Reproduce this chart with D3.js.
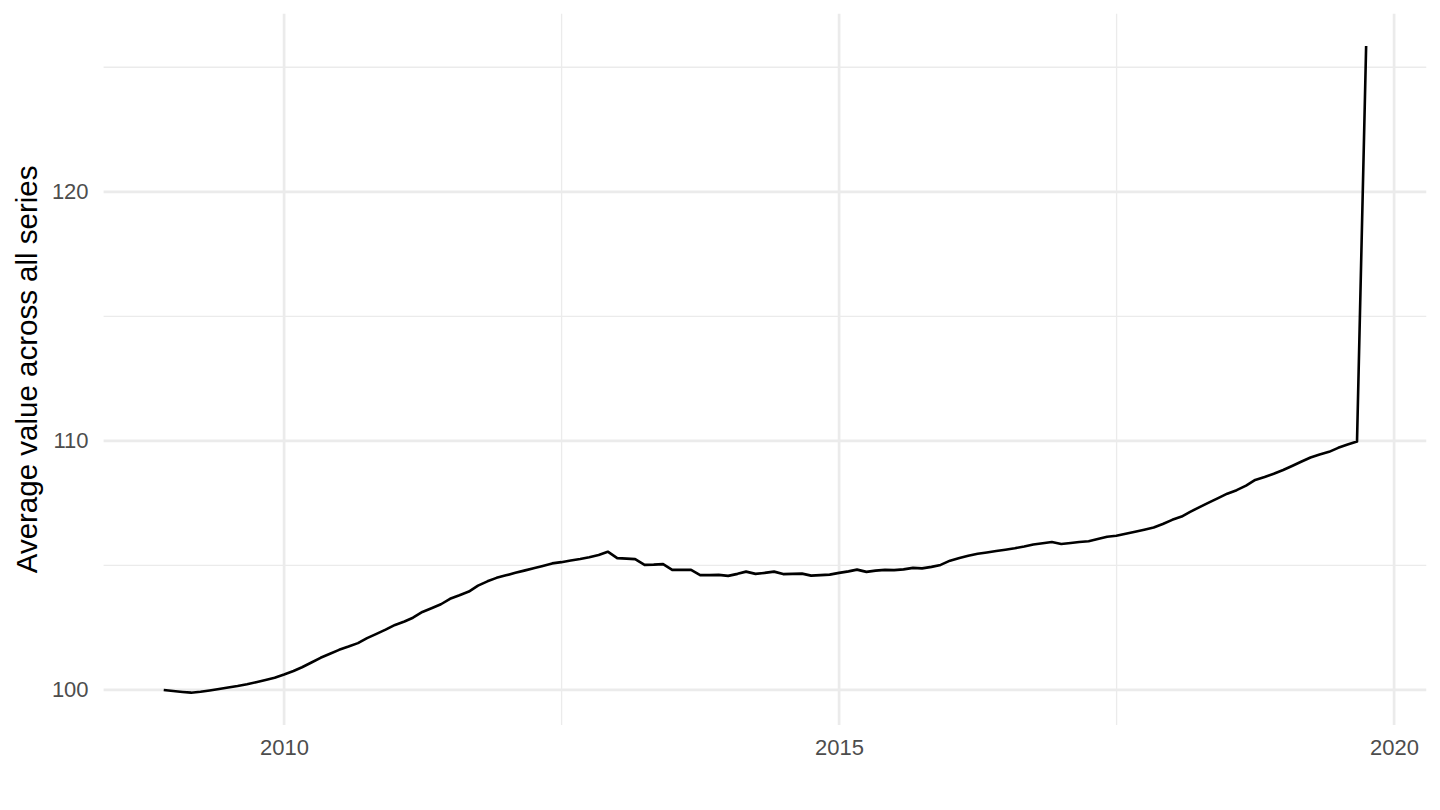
<!DOCTYPE html>
<html>
<head>
<meta charset="utf-8">
<script src="https://cdn.jsdelivr.net/npm/d3@7"></script>
<style>
  html, body { margin: 0; padding: 0; background: #fff; }
  svg { display: block; font-family: "Liberation Sans", Arial, Helvetica, sans-serif; }
</style>
</head>
<body>
<svg id="chart" width="1440" height="810"></svg>
<script>
// Monthly averages, one array per year (first entry of 2008 is December)
const v2008 = [100.00];
const v2009 = [99.96, 99.92, 99.89, 99.93, 99.98, 100.04, 100.10, 100.16, 100.23, 100.31, 100.40, 100.49];
const v2010 = [100.62, 100.76, 100.91, 101.10, 101.29, 101.45, 101.61, 101.74, 101.88, 102.08, 102.25, 102.42];
const v2011 = [102.61, 102.75, 102.90, 103.13, 103.28, 103.44, 103.66, 103.80, 103.95, 104.19, 104.36, 104.50];
const v2012 = [104.60, 104.70, 104.79, 104.89, 104.98, 105.08, 105.13, 105.20, 105.26, 105.33, 105.42, 105.55];
const v2013 = [105.29, 105.27, 105.25, 105.02, 105.03, 105.05, 104.82, 104.82, 104.82, 104.61, 104.61, 104.62];
const v2014 = [104.58, 104.66, 104.75, 104.66, 104.70, 104.75, 104.65, 104.66, 104.67, 104.59, 104.61, 104.63];
const v2015 = [104.70, 104.76, 104.83, 104.74, 104.79, 104.82, 104.81, 104.84, 104.90, 104.88, 104.94, 105.02];
const v2016 = [105.19, 105.30, 105.39, 105.47, 105.52, 105.58, 105.63, 105.69, 105.76, 105.84, 105.89, 105.94];
const v2017 = [105.86, 105.90, 105.94, 105.97, 106.06, 106.15, 106.19, 106.27, 106.35, 106.43, 106.52, 106.66];
const v2018 = [106.83, 106.96, 107.15, 107.34, 107.52, 107.70, 107.88, 108.02, 108.20, 108.43, 108.55, 108.68];
const v2019 = [108.83, 109.00, 109.16, 109.33, 109.45, 109.56, 109.72, 109.85, 109.97, 125.85];

const yearValues = [
  [2008, 12, v2008], [2009, 1, v2009], [2010, 1, v2010], [2011, 1, v2011],
  [2012, 1, v2012], [2013, 1, v2013], [2014, 1, v2014], [2015, 1, v2015],
  [2016, 1, v2016], [2017, 1, v2017], [2018, 1, v2018], [2019, 1, v2019]
];

const xTickYears = [2010, 2015, 2020];
const yTicks = [100, 110, 120];
const yMinorTicks = [105, 115, 125];
const yTitle = 'Average value across all series';

// build point list
const data = [];
yearValues.forEach(([year, firstMonth, vals]) => {
  vals.forEach((v, i) => data.push({ date: new Date(year, firstMonth - 1 + i, 1), value: v }));
});

const W = 1440, H = 810;
const panel = { left: 103.6, right: 1426.25, top: 13.75, bottom: 725 };

// ggplot-style 5% expansion
function expand(ext, mult) {
  const d = ext[1] - ext[0];
  return [ext[0] - d * mult, ext[1] + d * mult];
}

const xExt = d3.extent(data, d => +d.date);
const xDom = expand(xExt, 0.05).map(t => new Date(t));
const yDom = expand(d3.extent(data, d => d.value), 0.05);

const x = d3.scaleTime().domain(xDom).range([panel.left, panel.right]);
const y = d3.scaleLinear().domain(yDom).range([panel.bottom, panel.top]);

const svg = d3.select('#chart');
svg.append('rect').attr('width', W).attr('height', H).attr('fill', '#fff');

const xTicks = xTickYears.map(yr => new Date(yr, 0, 1));
const xMinor = [];
for (let i = 0; i < xTicks.length - 1; i++) {
  xMinor.push(new Date((+xTicks[i] + +xTicks[i + 1]) / 2));
}

const grid = svg.append('g').attr('class', 'grid');

// minor grid
grid.selectAll('line.ymin')
  .data(yMinorTicks.filter(v => v >= yDom[0] && v <= yDom[1]))
  .join('line')
  .attr('class', 'ymin')
  .attr('x1', panel.left).attr('x2', panel.right)
  .attr('y1', d => y(d)).attr('y2', d => y(d))
  .style('stroke', '#EBEBEB').style('stroke-width', 1.35);

grid.selectAll('line.xmin')
  .data(xMinor)
  .join('line')
  .attr('class', 'xmin')
  .attr('y1', panel.top).attr('y2', panel.bottom)
  .attr('x1', d => x(d)).attr('x2', d => x(d))
  .style('stroke', '#EBEBEB').style('stroke-width', 1.35);

// major grid
grid.selectAll('line.ymaj')
  .data(yTicks)
  .join('line')
  .attr('class', 'ymaj')
  .attr('x1', panel.left).attr('x2', panel.right)
  .attr('y1', d => y(d)).attr('y2', d => y(d))
  .style('stroke', '#EBEBEB').style('stroke-width', 2.7);

grid.selectAll('line.xmaj')
  .data(xTicks)
  .join('line')
  .attr('class', 'xmaj')
  .attr('y1', panel.top).attr('y2', panel.bottom)
  .attr('x1', d => x(d)).attr('x2', d => x(d))
  .style('stroke', '#EBEBEB').style('stroke-width', 2.7);

// axes (labels only, no lines / ticks as in theme_minimal)
const xAxis = svg.append('g')
  .attr('transform', `translate(0,${panel.bottom})`)
  .call(d3.axisBottom(x).tickValues(xTicks).tickFormat(d3.timeFormat('%Y')).tickSize(0).tickPadding(14));
xAxis.select('.domain').remove();
xAxis.selectAll('text')
  .style('font-size', '22px')
  .style('fill', '#4D4D4D')
  .attr('font-family', null);

const yAxis = svg.append('g')
  .attr('transform', `translate(${panel.left},0)`)
  .call(d3.axisLeft(y).tickValues(yTicks).tickFormat(d3.format('d')).tickSize(0).tickPadding(15));
yAxis.select('.domain').remove();
yAxis.selectAll('text')
  .style('font-size', '22px')
  .style('fill', '#4D4D4D')
  .attr('font-family', null);

// y title
svg.append('text')
  .attr('transform', `translate(37,${(panel.top + panel.bottom) / 2}) rotate(-90)`)
  .attr('text-anchor', 'middle')
  .style('font-size', '29.5px')
  .style('fill', '#000')
  .text(yTitle);

// data line
const line = d3.line()
  .x(d => x(d.date))
  .y(d => y(d.value));

svg.append('path')
  .datum(data)
  .attr('d', line)
  .style('fill', 'none')
  .style('stroke', '#000')
  .style('stroke-width', 2.6)
  .style('stroke-linejoin', 'round');
</script>
</body>
</html>
